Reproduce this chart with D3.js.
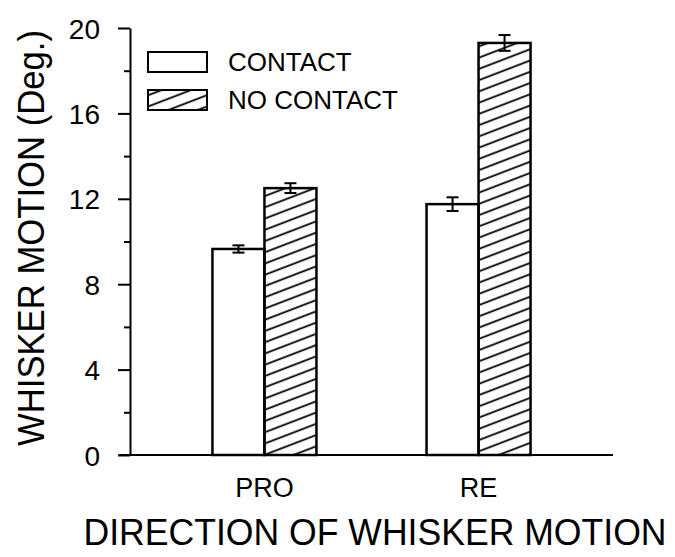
<!DOCTYPE html>
<html>
<head>
<meta charset="utf-8">
<script src="https://cdn.jsdelivr.net/npm/d3@7"></script>
<style>
  body { margin: 0; background: #fff; }
  text { font-family: "Liberation Sans", Arial, sans-serif; fill: #000; }
</style>
</head>
<body>
<div id="chart"></div>
<script>
  const categories = ["PRO", "RE"];
  const seriesNames = ["CONTACT", "NO CONTACT"];
  const contactValues = [9.65, 11.75];
  const contactErrors = [0.17, 0.32];
  const noContactValues = [12.5, 19.3];
  const noContactErrors = [0.23, 0.37];
  const majorTicks = [0, 4, 8, 12, 16, 20];
  const minorTicks = [2, 6, 10, 14, 18];

  const width = 675,
    height = 557;

  const svg = d3
    .select("#chart")
    .append("svg")
    .attr("width", width)
    .attr("height", height);

  // hatch pattern for the NO CONTACT bars
  svg
    .append("defs")
    .append("pattern")
    .attr("id", "hatch")
    .attr("patternUnits", "userSpaceOnUse")
    .attr("width", 10)
    .attr("height", 10.5)
    .attr("patternTransform", "rotate(-21)")
    .append("line")
    .attr("x1", -2)
    .attr("x2", 12)
    .attr("y1", 5)
    .attr("y2", 5)
    .attr("stroke", "#000")
    .attr("stroke-width", 1.8);

  const yScale = d3.scaleLinear().domain([0, 20]).range([455, 28]);

  const xScale = d3
    .scalePoint()
    .domain(categories)
    .range([130, 613])
    .padding(0.628);

  const xSub = d3.scaleBand().domain(seriesNames).range([-52, 52]);

  // y axis, major ticks
  const yAxis = svg
    .append("g")
    .attr("transform", "translate(130,0)")
    .call(
      d3
        .axisLeft(yScale)
        .tickValues(majorTicks)
        .tickSize(12)
        .tickSizeOuter(0)
        .tickPadding(18)
    );
  yAxis.select(".domain").attr("stroke-width", 2);
  yAxis.selectAll(".tick line").attr("stroke-width", 2);
  yAxis
    .selectAll(".tick text")
    .style("font-family", '"Liberation Sans", Arial, sans-serif')
    .style("font-size", "28px")
    .attr("dy", "0.36em");

  // minor ticks
  svg
    .append("g")
    .attr("transform", "translate(130,0)")
    .call(d3.axisLeft(yScale).tickValues(minorTicks).tickSize(6).tickFormat(""))
    .call((g) => g.select(".domain").remove())
    .selectAll(".tick line")
    .attr("stroke-width", 2);

  // x axis line
  svg
    .append("line")
    .attr("x1", 119)
    .attr("x2", 613)
    .attr("y1", yScale(0))
    .attr("y2", yScale(0))
    .attr("stroke", "#000")
    .attr("stroke-width", 2);

  const bars = categories.map((c, i) => [
    { cat: c, series: seriesNames[0], value: contactValues[i], err: contactErrors[i] },
    { cat: c, series: seriesNames[1], value: noContactValues[i], err: noContactErrors[i] },
  ]).flat();

  const fillFor = (s) => (s === seriesNames[0] ? "#fff" : "url(#hatch)");

  svg
    .append("g")
    .selectAll("rect")
    .data(bars)
    .enter()
    .append("rect")
    .attr("x", (d) => xScale(d.cat) + xSub(d.series))
    .attr("y", (d) => yScale(d.value))
    .attr("width", xSub.bandwidth())
    .attr("height", (d) => yScale(0) - yScale(d.value))
    .attr("fill", (d) => fillFor(d.series))
    .attr("stroke", "#000")
    .attr("stroke-width", 2.5);

  // error bars
  const errG = svg
    .append("g")
    .selectAll("g")
    .data(bars)
    .enter()
    .append("g")
    .attr("stroke", "#000")
    .attr("stroke-width", 2);
  const cx = (d) => xScale(d.cat) + xSub(d.series) + xSub.bandwidth() / 2;
  errG
    .append("line")
    .attr("x1", cx)
    .attr("x2", cx)
    .attr("y1", (d) => yScale(d.value + d.err))
    .attr("y2", (d) => yScale(d.value - d.err));
  [1, -1].forEach((sign) => {
    errG
      .append("line")
      .attr("x1", (d) => cx(d) - 6)
      .attr("x2", (d) => cx(d) + 6)
      .attr("y1", (d) => yScale(d.value + sign * d.err))
      .attr("y2", (d) => yScale(d.value + sign * d.err));
  });

  // category labels
  svg
    .append("g")
    .selectAll("text")
    .data(categories)
    .enter()
    .append("text")
    .attr("x", (d) => xScale(d))
    .attr("y", 497)
    .attr("text-anchor", "middle")
    .style("font-size", "27px")
    .text((d) => d);

  // legend
  const legend = svg
    .append("g")
    .selectAll("g")
    .data(seriesNames)
    .enter()
    .append("g")
    .attr("transform", (d, i) => `translate(148,${52 + i * 38})`);
  legend
    .append("rect")
    .attr("width", 59)
    .attr("height", 20)
    .attr("fill", (d) => fillFor(d))
    .attr("stroke", "#000")
    .attr("stroke-width", 2);
  legend
    .append("text")
    .attr("x", 80)
    .attr("y", 19)
    .style("font-size", "26px")
    .text((d) => d);

  // axis titles
  svg
    .append("text")
    .attr("x", 375)
    .attr("y", 545)
    .attr("text-anchor", "middle")
    .attr("textLength", 583)
    .attr("lengthAdjust", "spacingAndGlyphs")
    .style("font-size", "36px")
    .text("DIRECTION OF WHISKER MOTION");

  svg
    .append("text")
    .attr("transform", "translate(44,238) rotate(-90)")
    .attr("text-anchor", "middle")
    .attr("textLength", 416)
    .attr("lengthAdjust", "spacingAndGlyphs")
    .style("font-size", "36px")
    .text("WHISKER MOTION (Deg.)");
</script>
</body>
</html>
